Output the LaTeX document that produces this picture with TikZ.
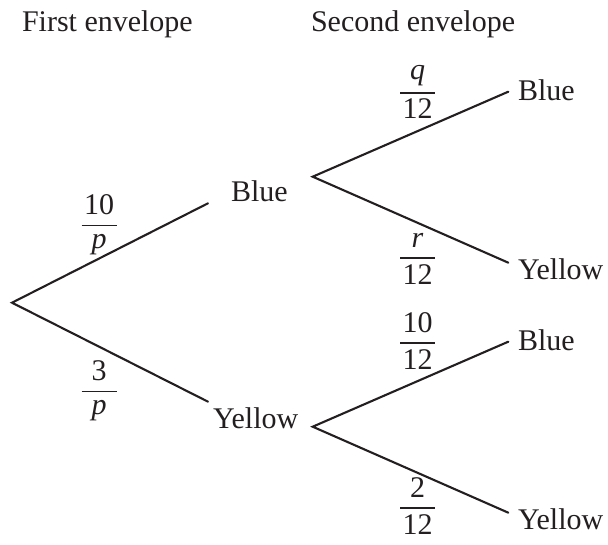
\documentclass[tikz,border=0pt]{standalone}
\usepackage{fontspec}
\setmainfont{Liberation Serif}
\definecolor{ink}{RGB}{35,31,32}
\newcommand{\fr}[2]{$\displaystyle{\hbox to 35pt{\hss#1\hss}\above 1.8pt\hbox to 35pt{\hss#2\hss}}$}
\begin{document}
\begin{tikzpicture}[x=1pt,y=-1pt,
  lbl/.style={inner sep=0pt,outer sep=0pt,text=ink,font=\fontsize{30}{36}\selectfont},
  frac/.style={lbl,anchor=center},
  branch/.style={draw=ink,line width=2.1pt,line cap=round,line join=miter}]
\useasboundingbox (0,0) rectangle (608,545);
% headers
\node[lbl,anchor=base west] (h1) at (22,31.7) {First envelope};
\node[lbl,anchor=base west] (h2) at (311,31.7) {Second envelope};
% branch points
\coordinate (r) at (12,302.7);
\coordinate (b1e) at (208,203.3);
\coordinate (y1e) at (208,401.7);
\coordinate (b1s) at (312.7,176.7);
\coordinate (y1s) at (312.7,426.7);
\coordinate (bbe) at (508.3,91.7);
\coordinate (bye) at (508.3,262.7);
\coordinate (ybe) at (508.3,341.7);
\coordinate (yye) at (508.3,512.7);
% labels
\node[lbl,anchor=west] (B1) at (231,191) {Blue};
\node[lbl,anchor=west] (Y1) at (213,418) {Yellow};
\node[lbl,anchor=west] (BB) at (518,90) {Blue};
\node[lbl,anchor=west] (BY) at (518,269) {Yellow};
\node[lbl,anchor=west] (YB) at (518,340) {Blue};
\node[lbl,anchor=west] (YY) at (518,519) {Yellow};
% branches
\draw[branch] (b1e) -- (r) -- (y1e);
\draw[branch] (bbe) -- (b1s) -- (bye);
\draw[branch] (ybe) -- (y1s) -- (yye);
% probabilities
\node[frac] (p1) at (99,225) {\fr{10}{\itshape p}};
\node[frac] (p2) at (99,391) {\fr{3}{\itshape p}};
\node[frac] (p3) at (417.5,92.3) {\fr{\itshape q}{12}};
\node[frac] (p4) at (417.5,259) {\fr{\itshape r}{12}};
\node[frac] (p5) at (417.5,340.7) {\fr{10}{12}};
\node[frac] (p6) at (417.5,506) {\fr{2}{12}};
\end{tikzpicture}
\end{document}
